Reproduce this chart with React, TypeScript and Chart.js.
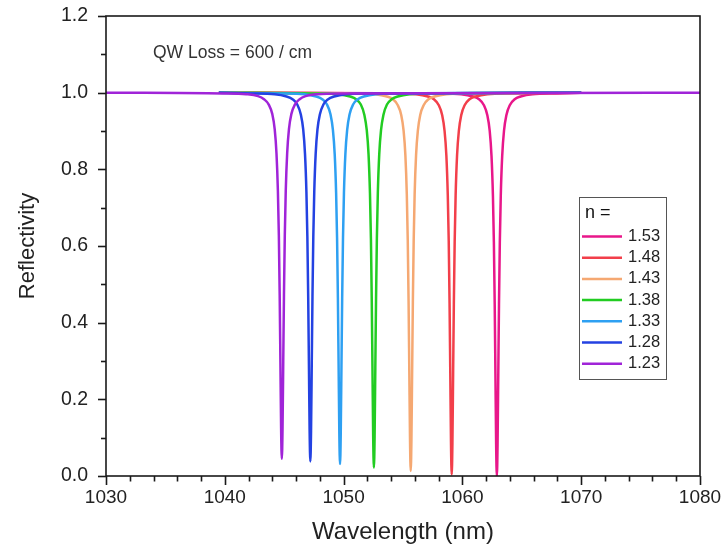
import React, { useEffect, useRef } from "react";
import { Chart, registerables } from "chart.js";

Chart.register(...registerables);

const FONT = "'Liberation Sans', Arial, Helvetica, sans-serif";

// ---- data ----
const seriesLabels = ["1.53", "1.48", "1.43", "1.38", "1.33", "1.28", "1.23"];
const seriesColors = ["#E8178A", "#F23F4A", "#F5A872", "#22CC22", "#2EA0F2", "#2442E2", "#A024D8"];

const wl153 = [1039.5, 1057.9, 1059.9, 1060.9, 1061.4, 1061.8, 1062.1, 1062.3, 1062.45, 1062.57, 1062.65, 1062.72, 1062.78, 1062.84, 1062.9, 1062.96, 1063.02, 1063.08, 1063.15, 1063.23, 1063.35, 1063.5, 1063.7, 1064.0, 1064.4, 1064.9, 1065.9, 1067.9, 1070];
const r153 = [1.0, 0.998, 0.996, 0.99, 0.983, 0.968, 0.941, 0.9, 0.835, 0.731, 0.61, 0.447, 0.265, 0.083, 0.0, 0.083, 0.265, 0.447, 0.61, 0.731, 0.835, 0.9, 0.941, 0.968, 0.983, 0.99, 0.996, 0.998, 1.0];

const wl148 = [1039.5, 1054.1, 1056.1, 1057.1, 1057.6, 1058.0, 1058.3, 1058.5, 1058.65, 1058.77, 1058.85, 1058.92, 1058.98, 1059.04, 1059.1, 1059.16, 1059.22, 1059.28, 1059.35, 1059.43, 1059.55, 1059.7, 1059.9, 1060.2, 1060.6, 1061.1, 1062.1, 1064.1, 1070];
const r148 = [1.0, 0.998, 0.996, 0.99, 0.983, 0.968, 0.941, 0.9, 0.836, 0.732, 0.612, 0.449, 0.268, 0.087, 0.004, 0.087, 0.268, 0.449, 0.612, 0.732, 0.836, 0.9, 0.941, 0.968, 0.983, 0.99, 0.996, 0.998, 1.0];

const wl143 = [1039.5, 1050.65, 1052.65, 1053.65, 1054.15, 1054.55, 1054.85, 1055.05, 1055.2, 1055.32, 1055.4, 1055.47, 1055.53, 1055.59, 1055.65, 1055.71, 1055.77, 1055.83, 1055.9, 1055.98, 1056.1, 1056.25, 1056.45, 1056.75, 1057.15, 1057.65, 1058.65, 1060.65, 1070];
const r143 = [1.0, 0.998, 0.996, 0.99, 0.983, 0.968, 0.942, 0.901, 0.837, 0.735, 0.615, 0.454, 0.275, 0.095, 0.013, 0.095, 0.275, 0.454, 0.615, 0.735, 0.837, 0.901, 0.942, 0.968, 0.983, 0.99, 0.996, 0.998, 1.0];

const wl138 = [1039.5, 1047.55, 1049.55, 1050.55, 1051.05, 1051.45, 1051.75, 1051.95, 1052.1, 1052.22, 1052.3, 1052.37, 1052.43, 1052.49, 1052.55, 1052.61, 1052.67, 1052.73, 1052.8, 1052.88, 1053.0, 1053.15, 1053.35, 1053.65, 1054.05, 1054.55, 1055.55, 1057.55, 1070];
const r138 = [1.0, 0.998, 0.996, 0.99, 0.983, 0.969, 0.942, 0.902, 0.839, 0.737, 0.619, 0.459, 0.281, 0.103, 0.022, 0.103, 0.281, 0.459, 0.619, 0.737, 0.839, 0.902, 0.942, 0.969, 0.983, 0.99, 0.996, 0.998, 1.0];

const wl133 = [1039.5, 1044.7, 1046.7, 1047.7, 1048.2, 1048.6, 1048.9, 1049.1, 1049.25, 1049.37, 1049.45, 1049.52, 1049.58, 1049.64, 1049.7, 1049.76, 1049.82, 1049.88, 1049.95, 1050.03, 1050.15, 1050.3, 1050.5, 1050.8, 1051.2, 1051.7, 1052.7, 1054.7, 1070];
const r133 = [1.0, 0.998, 0.996, 0.99, 0.983, 0.969, 0.943, 0.903, 0.84, 0.739, 0.622, 0.464, 0.288, 0.111, 0.031, 0.111, 0.288, 0.464, 0.622, 0.739, 0.84, 0.903, 0.943, 0.969, 0.983, 0.99, 0.996, 0.998, 1.0];

const wl128 = [1039.5, 1042.2, 1044.2, 1045.2, 1045.7, 1046.1, 1046.4, 1046.6, 1046.75, 1046.87, 1046.95, 1047.02, 1047.08, 1047.14, 1047.2, 1047.26, 1047.32, 1047.38, 1047.45, 1047.53, 1047.65, 1047.8, 1048.0, 1048.3, 1048.7, 1049.2, 1050.2, 1052.2, 1070];
const r128 = [1.0, 0.998, 0.996, 0.99, 0.983, 0.969, 0.943, 0.904, 0.841, 0.741, 0.625, 0.468, 0.293, 0.118, 0.038, 0.118, 0.293, 0.468, 0.625, 0.741, 0.841, 0.904, 0.943, 0.969, 0.983, 0.99, 0.996, 0.998, 1.0];

const wl123 = [1030, 1039.8, 1041.8, 1042.8, 1043.3, 1043.7, 1044.0, 1044.2, 1044.35, 1044.47, 1044.55, 1044.62, 1044.68, 1044.74, 1044.8, 1044.86, 1044.92, 1044.98, 1045.05, 1045.13, 1045.25, 1045.4, 1045.6, 1045.9, 1046.3, 1046.8, 1047.8, 1049.8, 1080];
const r123 = [1.0, 0.998, 0.996, 0.991, 0.983, 0.969, 0.944, 0.905, 0.842, 0.743, 0.628, 0.472, 0.298, 0.124, 0.045, 0.124, 0.298, 0.472, 0.628, 0.743, 0.842, 0.905, 0.944, 0.969, 0.983, 0.991, 0.996, 0.998, 1.0];

const seriesX = [wl153, wl148, wl143, wl138, wl133, wl128, wl123];
const seriesY = [r153, r148, r143, r138, r133, r128, r123];

const xTickValues = [1030, 1040, 1050, 1060, 1070, 1080];
const yTickValues = [0, 0.2, 0.4, 0.6, 0.8, 1.0, 1.2];
const annotationText = "QW Loss = 600 / cm";
const legendTitle = "n =";
const xTitle = "Wavelength (nm)";
const yTitle = "Reflectivity";

const decorPlugin = {
  id: "decor",
  afterDraw(chart: any) {
    const { ctx } = chart;
    const { left, right, top, bottom } = chart.chartArea;
    const xs = chart.scales.x;
    const ys = chart.scales.y;
    ctx.save();
    // frame
    ctx.strokeStyle = "#1a1a1a";
    ctx.lineWidth = 1.6;
    ctx.strokeRect(left, top, right - left, bottom - top);
    // x ticks (major every 10, minor every 2)
    for (let v = 1030; v <= 1080; v += 2) {
      const px = Math.round(xs.getPixelForValue(v)) + 0.5;
      const len = v % 10 === 0 ? 9 : 5.5;
      ctx.beginPath();
      ctx.moveTo(px, bottom);
      ctx.lineTo(px, bottom + len);
      ctx.stroke();
    }
    // y ticks (major every 0.2, minor every 0.1)
    for (let i = 0; i <= 12; i++) {
      const py = Math.round(ys.getPixelForValue(i / 10)) + 0.5;
      const len = i % 2 === 0 ? 8 : 5;
      ctx.beginPath();
      ctx.moveTo(left, py);
      ctx.lineTo(left - len, py);
      ctx.stroke();
    }
    // annotation
    ctx.fillStyle = "#333";
    ctx.font = `17.5px ${FONT}`;
    ctx.textBaseline = "middle";
    ctx.textAlign = "left";
    ctx.fillText(annotationText, 153, 53);

    // legend
    const lx = 579, ly = 197, lw = 87, lh = 182;
    ctx.fillStyle = "#fff";
    ctx.fillRect(lx, ly, lw, lh);
    ctx.strokeStyle = "#555";
    ctx.lineWidth = 1;
    ctx.strokeRect(lx + 0.5, ly + 0.5, lw, lh);
    ctx.fillStyle = "#111";
    ctx.font = `18px ${FONT}`;
    ctx.fillText(legendTitle, 585, 213);
    ctx.font = `16.5px ${FONT}`;
    seriesLabels.forEach((lab, i) => {
      const y = 236.5 + i * 21.2;
      ctx.strokeStyle = seriesColors[i];
      ctx.lineWidth = 2.5;
      ctx.beginPath();
      ctx.moveTo(582, y);
      ctx.lineTo(622, y);
      ctx.stroke();
      ctx.fillStyle = "#222";
      ctx.fillText(lab, 628, y);
    });
    ctx.restore();
  },
};

export default function App() {
  const ref = useRef<HTMLCanvasElement | null>(null);

  useEffect(() => {
    if (!ref.current) return;
    const datasets = seriesLabels.map((lab, i) => ({
      label: lab,
      data: seriesX[i].map((x, j) => ({ x, y: seriesY[i][j] })),
      borderColor: seriesColors[i],
      backgroundColor: seriesColors[i],
      borderWidth: 2.5,
      pointRadius: 0,
      fill: false,
      cubicInterpolationMode: "monotone" as const,
      order: seriesLabels.length - 1 - i,
    }));

    const chart = new Chart(ref.current, {
      type: "line",
      data: { datasets },
      options: {
        animation: false,
        responsive: false,
        events: [],
        layout: { padding: { top: 16, right: 23, left: 0, bottom: 0 } },
        plugins: { legend: { display: false }, tooltip: { enabled: false } },
        scales: {
          x: {
            type: "linear",
            min: 1030,
            max: 1080,
            afterBuildTicks: (s: any) => {
              s.ticks = xTickValues.map((v) => ({ value: v }));
            },
            afterFit: (s: any) => {
              s.height = 71;
              s.paddingLeft = 0;
              s.paddingRight = 0;
            },
            grid: { display: false, drawTicks: false, tickLength: 0 },
            border: { display: false },
            ticks: {
              padding: 10,
              color: "#222",
              font: { family: FONT, size: 19 },
              maxRotation: 0,
              callback: (v: any) => String(v),
            },
            title: {
              display: true,
              text: xTitle,
              color: "#222",
              font: { family: FONT, size: 24 },
              padding: { top: 0, bottom: 0 },
            },
          },
          y: {
            type: "linear",
            min: 0,
            max: 1.2,
            afterBuildTicks: (s: any) => {
              s.ticks = yTickValues.map((v) => ({ value: v }));
            },
            afterFit: (s: any) => {
              s.width = 106;
              s.paddingTop = 0;
              s.paddingBottom = 0;
            },
            grid: { display: false, drawTicks: false, tickLength: 0 },
            border: { display: false },
            ticks: {
              padding: 18,
              color: "#222",
              font: { family: FONT, size: 19.5 },
              callback: (v: any) => Number(v).toFixed(1),
            },
            title: {
              display: true,
              text: yTitle,
              color: "#222",
              font: { family: FONT, size: 22 },
              padding: { top: 15, bottom: 0 },
            },
          },
        },
      },
      plugins: [decorPlugin],
    });
    return () => chart.destroy();
  }, []);

  return (
    <div style={{ position: "absolute", left: 0, top: 0, width: 723, height: 547, background: "#fff" }}>
      <canvas ref={ref} width={723} height={547} style={{ display: "block" }} />
    </div>
  );
}
